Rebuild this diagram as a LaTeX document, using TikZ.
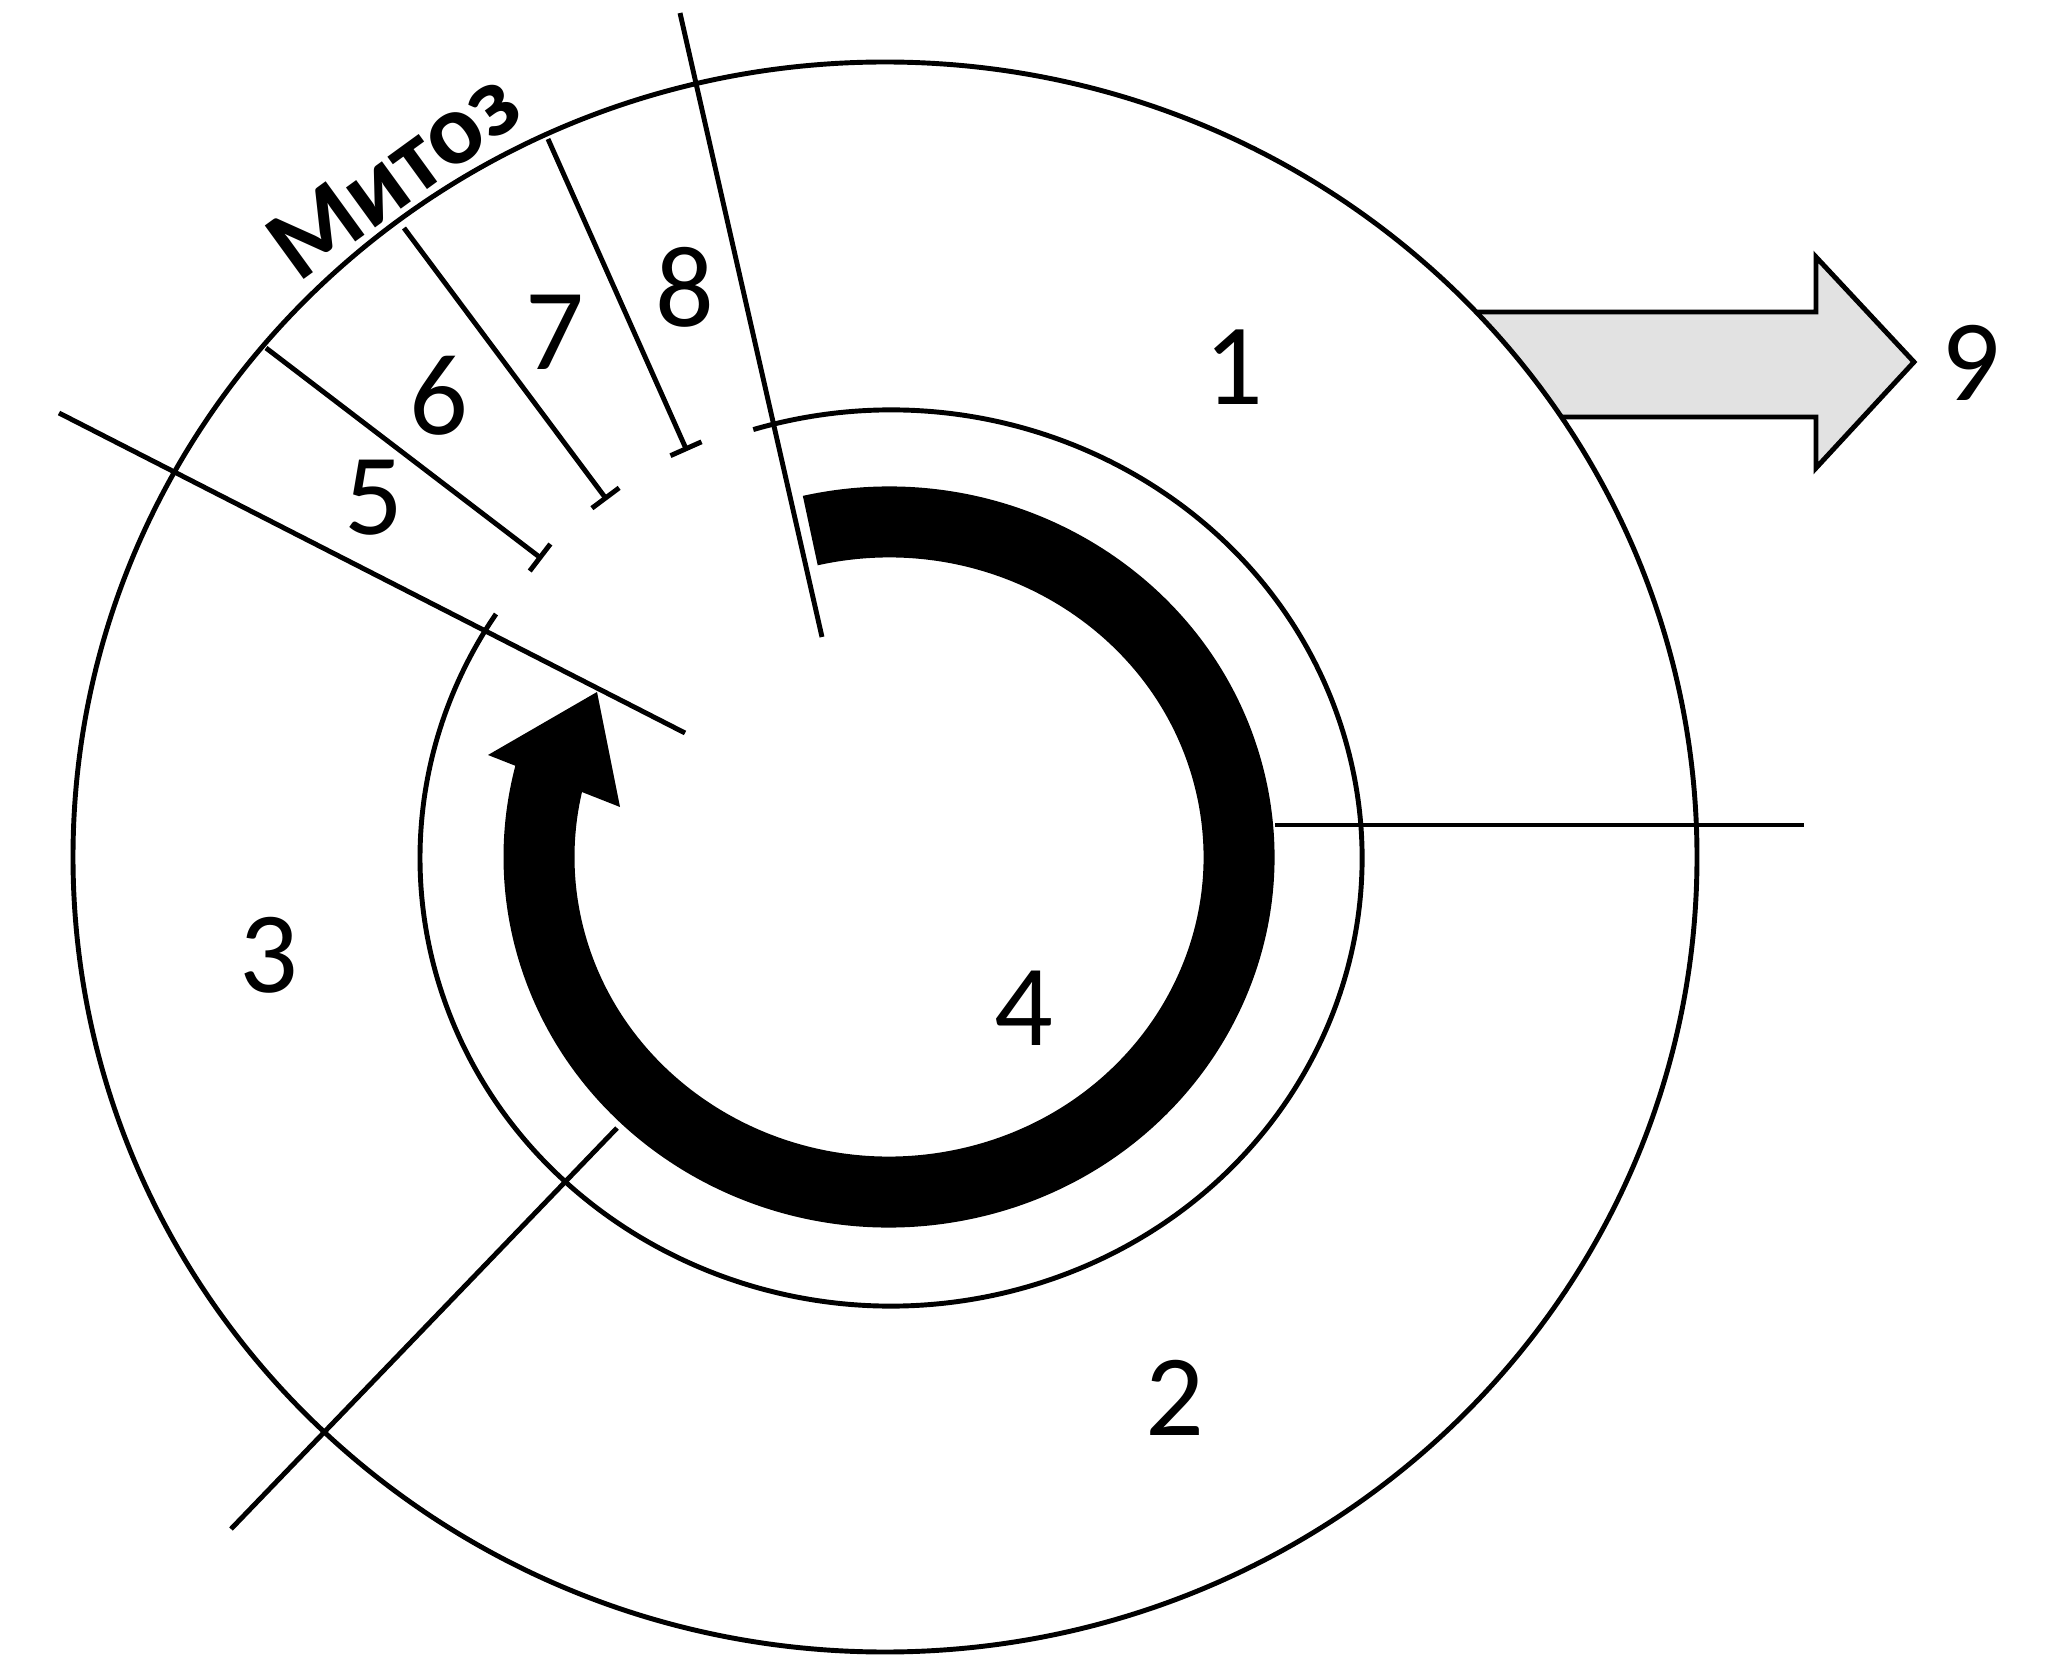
\documentclass[tikz,border=0pt]{standalone}
\usepackage{fontspec}
\setmainfont{Carlito}
\usetikzlibrary{arrows.meta}
\definecolor{shade}{HTML}{E2E2E2}

\tikzset{
  num/.style={font=\fontsize{33}{33}\selectfont, inner sep=0pt},
  stage/.style={-{Bar[width=3.4mm]}}
}

\begin{document}
\begin{tikzpicture}[line width=1.4pt]
\useasboundingbox (0,0) rectangle (20.58,16.56);

% Exit arrow (behind the cell)
\filldraw[fill=shade] (14.0,13.44) -- (18.16,13.44) -- (18.16,13.99) -- (19.14,12.94)
  -- (18.16,11.88) -- (18.16,12.39) -- (15.0,12.39) -- cycle;

% Cell outline
\draw[fill=white] (8.85,7.99) ellipse [x radius=8.12, y radius=7.95];

% Inner ring, open over mitosis
\draw (8.91,7.98) ++(107:4.71 and 4.48)
  arc[start angle=107, end angle=-213, x radius=4.71, y radius=4.48];

% Phase borders
\draw (6.80,16.43) -- (8.22,10.19);
\draw (0.59,12.43) -- (6.85,9.23);
\draw (12.75,8.31) -- (18.04,8.31);
\draw (6.17,5.28) -- (2.31,1.27);

% Mitosis stages
\draw[stage] (2.66,13.08) -- (5.42,10.97);
\draw[stage] (4.04,14.28) -- (6.07,11.56);
\draw[stage] (5.48,15.17) -- (6.87,12.05);

% Cycle arrow
\draw[line width=7.1mm] (8.89,7.99) ++(103:3.50 and 3.35)
  arc[start angle=103, end angle=-195, x radius=3.50, y radius=3.35];
\fill (5.97,9.64) -- (4.88,9.01) -- (6.20,8.49) -- cycle;

% Labels
\node[num] (n1) at (12.34,12.89) {1};
\node[num] (n2) at (11.75,2.58) {2};
\node[num] (n3) at (2.69,7.01) {3};
\node[num] (n4) at (10.24,6.48) {4};
\node[num] (n5) at (3.74,11.58) {5};
\node[num] (n6) at (4.39,12.60) {6};
\node[num] (n7) at (5.55,13.24) {7};
\node[num] (n8) at (6.85,13.69) {8};
\node[num] (n9) at (19.71,12.93) {9};
\node[font=\bfseries\fontsize{29}{29}\selectfont, rotate=36, inner sep=0pt] (mitosis)
  at (3.94,14.82) {Митоз};

\end{tikzpicture}
\end{document}
